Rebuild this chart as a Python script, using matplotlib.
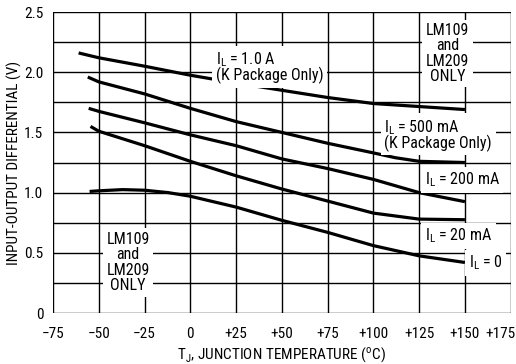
import numpy as np
import matplotlib
matplotlib.use("Agg")
import matplotlib.pyplot as plt
import matplotlib.transforms as mtrans
from matplotlib import font_manager as fm

# pick a narrow sans if one is around, the scan uses a condensed face
avail = {(f.name, f.stretch) for f in fm.fontManager.ttflist}
names = {n for n, s in avail}
stretch = 'normal'
if 'Roboto Condensed' in names:
    fam = 'Roboto Condensed'
elif 'Liberation Sans Narrow' in names:
    fam = 'Liberation Sans Narrow'
elif any(n == 'DejaVu Sans' and s in ('condensed', 'semi-condensed', 600, 700) for n, s in avail):
    fam = 'DejaVu Sans'
    stretch = 'condensed'
else:
    fam = 'Liberation Sans'

plt.rcParams['font.family'] = [fam, 'DejaVu Sans']
plt.rcParams['font.stretch'] = stretch
plt.rcParams['mathtext.fontset'] = 'custom'
plt.rcParams['mathtext.rm'] = fam + (':stretch=condensed' if stretch == 'condensed' else '')

# curves (temperature in C, differential in V)
t_1a = [-61, -50, -25, 0, 25, 50, 75, 100, 125, 150]
v_1a = [2.16, 2.12, 2.05, 1.975, 1.91, 1.85, 1.79, 1.74, 1.715, 1.69]

t_500 = [-56, -50, -25, 0, 25, 50, 75, 100, 112, 125, 150]
v_500 = [1.96, 1.92, 1.82, 1.70, 1.59, 1.50, 1.41, 1.33, 1.29, 1.26, 1.25]

t_200 = [-55.5, -50, -25, 0, 25, 50, 75, 100, 125, 150]
v_200 = [1.70, 1.675, 1.58, 1.48, 1.39, 1.28, 1.20, 1.11, 1.00, 0.925]

t_20 = [-54.5, -50, -25, 0, 25, 50, 75, 100, 125, 150]
v_20 = [1.55, 1.51, 1.39, 1.26, 1.14, 1.03, 0.93, 0.83, 0.78, 0.775]

t_0 = [-55, -50, -37, -25, -12, 0, 25, 50, 75, 100, 125, 150]
v_0 = [1.01, 1.015, 1.025, 1.02, 1.0, 0.97, 0.88, 0.77, 0.67, 0.56, 0.475, 0.42]

xticks = [-75, -50, -25, 0, 25, 50, 75, 100, 125, 150, 175]
xlabels = ['\u221275', '\u221250', '\u221225', '0', '+25', '+50', '+75', '+100', '+125', '+150', '+175']
yticks = [0, 0.5, 1.0, 1.5, 2.0, 2.5]
ylabels = ['0', '0.5', '1.0', '1.5', '2.0', '2.5']

fig = plt.figure(figsize=(5.16, 3.64), dpi=100)
ax = fig.add_axes([0.1027, 0.14, 0.887, 0.827])

ax.set_xlim(-75, 175)
ax.set_ylim(0, 2.5)

# grid
for x in np.arange(-75, 176, 25):
    ax.axvline(x, color='black', lw=1.0, zorder=1)
for y in np.arange(0, 2.51, 0.25):
    ax.axhline(y, color='black', lw=1.0, zorder=1)

for t, v in [(t_1a, v_1a), (t_500, v_500), (t_200, v_200), (t_20, v_20), (t_0, v_0)]:
    ax.plot(t, v, color='black', lw=2.3, solid_capstyle='butt', zorder=3)

for s in ax.spines.values():
    s.set_visible(False)

ax.set_xticks(xticks)
ax.set_xticklabels(xlabels)
ax.set_yticks(yticks)
ax.set_yticklabels(ylabels)
ax.tick_params(length=0, labelsize=11)
ax.tick_params(axis='x', pad=10)
ax.tick_params(axis='y', pad=7)
# last label sits a bit left of its tick, like on the sheet
lab = ax.get_xticklabels()[-1]
lab.set_transform(lab.get_transform() + mtrans.ScaledTranslation(-0.1, 0, fig.dpi_scale_trans))

ax.set_xlabel(r'T$_\mathrm{J}$, JUNCTION TEMPERATURE ($^\mathrm{o}$C)', fontsize=11, labelpad=3)
ax.set_ylabel('INPUT-OUTPUT DIFFERENTIAL (V)', fontsize=11)
ax.yaxis.set_label_coords(-0.068, 0.5)

box = dict(facecolor='white', edgecolor='none', pad=2.5)
tk = dict(fontsize=11.5, zorder=5, bbox=box)

ax.text(14, 2.04, 'I$_\\mathrm{L}$ = 1.0 A\n(K Package Only)', ha='left', va='center',
        linespacing=0.85, **tk)
ax.text(140.5, 2.155, 'LM109\nand\nLM209\nONLY', ha='center', va='center',
        linespacing=1.02, **tk)
ax.text(106, 1.48, 'I$_\\mathrm{L}$ = 500 mA\n(K Package Only)', ha='left', va='center',
        linespacing=0.85, **tk)
ax.text(128, 1.105, 'I$_\\mathrm{L}$ = 200 mA', ha='left', va='center', **tk)
ax.text(128, 0.64, 'I$_\\mathrm{L}$ = 20 mA', ha='left', va='center', **tk)
ax.text(152, 0.415, 'I$_\\mathrm{L}$ = 0', ha='left', va='center', **tk)
ax.text(-34, 0.42, 'LM109\nand\nLM209\nONLY', ha='center', va='center',
        linespacing=1.05, **tk)

fig.savefig('out.png', dpi=100)
